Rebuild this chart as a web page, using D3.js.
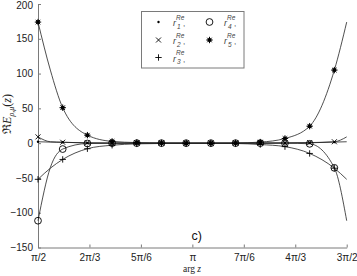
<!DOCTYPE html>
<html>
<head>
<meta charset="utf-8">
<script src="https://cdn.jsdelivr.net/npm/d3@7"></script>
<style>
  body { margin: 0; background: #fff; }
  svg { display: block; font-family: "Liberation Sans", Arial, sans-serif; }
</style>
</head>
<body>
<div id="chart"></div>
<script>
// arg z in units of pi
var tickArgs = [1/2, 2/3, 5/6, 1, 7/6, 4/3, 3/2];
var tickLabels = ["\u03c0/2", "2\u03c0/3", "5\u03c0/6", "\u03c0", "7\u03c0/6", "4\u03c0/3", "3\u03c0/2"];
var yTicks = [-150, -100, -50, 0, 50, 100, 150, 200];

var markerArg = [0.50, 0.58, 0.66, 0.74, 0.82, 0.90, 0.98, 1.06, 1.14, 1.22, 1.30, 1.38, 1.46];
var r1 = [2, 1.2, 0.3, 0, 0, 0, 0, 0, 0, 0, 0.2, 0.5, 1.5];
var r2 = [9, 1.3, 0.4, 0.1, 0, 0, 0, 0, 0, 0.1, 0.3, 0.8, 2];
var r3 = [-52, -23.4, -8, -3, -1, -0.5, -0.3, -0.3, -0.5, -2, -5, -14.8, -36];
var r4 = [-111.5, -8.5, -0.5, 0, 0, 0, 0, 0, 0, 0, 0, -1, -35.5];
var r5 = [174, 51, 11.5, 2.5, 0.8, 0.2, 0, 0, 0.2, 1.5, 6.7, 24.4, 105];
// curve values read at arg = 0.54pi and at 3pi/2
var nearArg = 0.54, endArg = 1.5;
var curveNear = [1.5, 2, -36, -35, 105];
var curveEnd = [2, 9, -52, -111.5, 174];
var seriesNames = ["1", "2", "3", "4", "5"];
var markerTypes = ["dot", "x", "plus", "circle", "star"];

var w = 357, h = 276;
var svg = d3.select("#chart").append("svg").attr("width", w).attr("height", h);

var x = d3.scaleLinear().domain([0.5, 1.5]).range([38, 346.7]);
var y = d3.scaleLinear().domain([-150, 200]).range([247.5, 4]);

// axes, ticks point inward
var xAxis = d3.axisBottom(x).tickValues(tickArgs)
    .tickFormat(function(d, i) { return tickLabels[i]; })
    .tickSizeInner(-3).tickSizeOuter(0).tickPadding(6);
var yAxis = d3.axisLeft(y).tickValues(yTicks)
    .tickSizeInner(-3).tickSizeOuter(0).tickPadding(5);

var gx = svg.append("g").attr("transform", "translate(0," + y(-150) + ")").call(xAxis);
var gy = svg.append("g").attr("transform", "translate(" + x(0.5) + ",0)").call(yAxis);
[gx, gy].forEach(function(g) {
    g.selectAll("path, line").attr("stroke", "#7a7a7a");
    g.selectAll("text").attr("fill", "#222").style("font-size", "10px")
        .style("font-family", "'Liberation Sans', Arial, sans-serif");
});
// keep the top label inside the picture
gy.selectAll(".tick text").filter(function(d) { return d == 200; }).attr("dy", "0.4em");

// lines
var allSeries = [r1, r2, r3, r4, r5];
var line = d3.line()
    .x(function(d) { return x(d[0]); })
    .y(function(d) { return y(d[1]); })
    .curve(d3.curveMonotoneX);

allSeries.forEach(function(s, i) {
    var pts = markerArg.map(function(a, k) { return [a, s[k]]; });
    pts.push([nearArg, curveNear[i]]);
    pts.push([endArg, curveEnd[i]]);
    pts.sort(function(a, b) { return a[0] - b[0]; });
    svg.append("path")
        .attr("d", line(pts))
        .attr("fill", "none")
        .attr("stroke", "#222")
        .attr("stroke-width", 0.8);
});

// marker shapes
function drawMarker(g, type, cx, cy) {
    if (type == "dot") {
        g.append("circle").attr("cx", cx).attr("cy", cy).attr("r", 1.2).attr("fill", "#000");
    } else if (type == "x") {
        g.append("path").attr("d", "M" + (cx - 2.5) + "," + (cy - 2.5) + "L" + (cx + 2.5) + "," + (cy + 2.5) +
            "M" + (cx - 2.5) + "," + (cy + 2.5) + "L" + (cx + 2.5) + "," + (cy - 2.5))
            .attr("stroke", "#000").attr("stroke-width", 0.9);
    } else if (type == "plus") {
        g.append("path").attr("d", "M" + (cx - 3.2) + "," + cy + "L" + (cx + 3.2) + "," + cy +
            "M" + cx + "," + (cy - 3.2) + "L" + cx + "," + (cy + 3.2))
            .attr("stroke", "#000").attr("stroke-width", 0.9);
    } else if (type == "circle") {
        g.append("circle").attr("cx", cx).attr("cy", cy).attr("r", 3.4)
            .attr("fill", "none").attr("stroke", "#000").attr("stroke-width", 0.9);
    } else if (type == "star") {
        var d = "";
        for (var a = 0; a < 4; a++) {
            var t = a * Math.PI / 4;
            d += "M" + (cx - 3.2 * Math.cos(t)) + "," + (cy - 3.2 * Math.sin(t)) +
                 "L" + (cx + 3.2 * Math.cos(t)) + "," + (cy + 3.2 * Math.sin(t));
        }
        g.append("path").attr("d", d).attr("stroke", "#000").attr("stroke-width", 1);
        g.append("circle").attr("cx", cx).attr("cy", cy).attr("r", 2).attr("fill", "#000");
    }
}

var marks = svg.append("g");
allSeries.forEach(function(s, i) {
    markerArg.forEach(function(a, k) {
        drawMarker(marks, markerTypes[i], x(a), y(s[k]));
    });
});

// legend
var lg = svg.append("g");
lg.append("rect").attr("x", 141.5).attr("y", 11.5).attr("width", 102.5).attr("height", 56.5)
    .attr("fill", "#fff").attr("stroke", "#7a7a7a").attr("stroke-width", 1);
var legendPos = [[158.5, 22], [158.5, 40], [158.5, 57.5], [209.5, 22], [209.5, 40]];
legendPos.forEach(function(p, i) {
    drawMarker(lg, markerTypes[i], p[0], p[1]);
    var tx = p[0] + 14.5;
    lg.append("text").attr("x", tx).attr("y", p[1] + 4).text("r")
        .style("font-size", "9px").style("font-style", "italic").attr("fill", "#444");
    lg.append("text").attr("x", tx + 3).attr("y", p[1] - 2.5).text("Re")
        .style("font-size", "6.5px").style("font-style", "italic").attr("fill", "#444");
    lg.append("text").attr("x", tx + 4).attr("y", p[1] + 6.5).text(seriesNames[i])
        .style("font-size", "6.5px").style("font-style", "italic").attr("fill", "#444");
    lg.append("text").attr("x", tx + 10).attr("y", p[1] + 4).text(",")
        .style("font-size", "8px").attr("fill", "#444");
});

// panel label
svg.append("text").attr("x", 191.5).attr("y", 240).text("c)")
    .style("font-size", "12.5px").attr("fill", "#111");

// x label
var xl = svg.append("text").attr("x", 192).attr("y", 272).attr("text-anchor", "middle")
    .style("font-family", "'Liberation Serif', 'Times New Roman', serif").style("font-size", "9.5px").attr("fill", "#222");
xl.append("tspan").text("arg ");
xl.append("tspan").style("font-style", "italic").text("z");

// y label
var yl = svg.append("text").attr("transform", "translate(11,114) rotate(-90)").attr("text-anchor", "middle")
    .style("font-family", "'Liberation Serif', 'Times New Roman', serif").style("font-size", "12px").attr("fill", "#222");
yl.append("tspan").text("\u211c");
yl.append("tspan").style("font-style", "italic").text("E");
yl.append("tspan").attr("dy", 3).style("font-size", "8px").style("font-style", "italic").text("\u03c1,\u03bc");
yl.append("tspan").attr("dy", -3).text("(");
yl.append("tspan").style("font-style", "italic").text("z");
yl.append("tspan").text(")");
</script>
</body>
</html>
